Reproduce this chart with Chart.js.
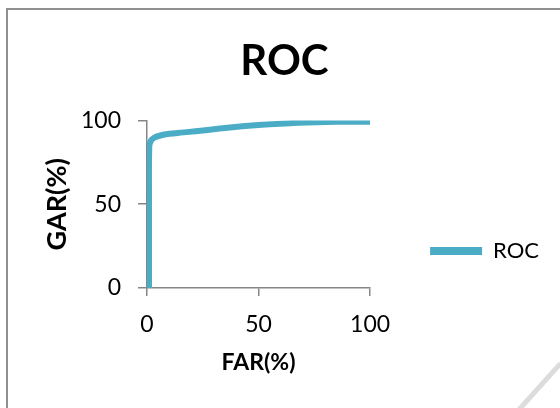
<!DOCTYPE html>
<html>
<head>
<meta charset="utf-8">
<title>ROC</title>
<script src="https://cdn.jsdelivr.net/npm/chart.js@4"></script>
<style>
    html, body { margin: 0; padding: 0; background: #fff; overflow: hidden; }
    #frame {
        position: absolute; left: 6px; top: 8px;
        width: 560px; height: 410px;
        border-left: 2px solid #8f8f8f; border-top: 2px solid #8f8f8f;
    }
    #box { position: absolute; left: 0; top: 0; width: 554px; height: 400px; }
    #mark {
        position: absolute; left: 536px; top: 355px;
        width: 5px; height: 66px; background: #dcdcdc;
        transform: rotate(42deg);
    }
</style>
</head>
<body>
<div id="frame"><div id="box"><canvas id="rocChart"></canvas></div></div>
<div id="mark"></div>
<script>
    // FAR / GAR en porcentaje
    const far = [0.9, 0.9, 1, 1.6, 3, 6, 10, 15, 24, 35, 50, 68, 85, 100];
    const gar = [0, 50, 84, 87.5, 89.5, 91, 92, 92.7, 93.8, 95.5, 97.2, 98.6, 99.2, 99.2];
    const ticksX = [0, 50, 100];
    const ticksY = [0, 50, 100];

    const azul = "#4BACC6";
    const gris = "#868686";
    const fuente = "Lato, 'Open Sans', sans-serif";

    Chart.defaults.font.family = fuente;
    Chart.defaults.color = "#000";

    const puntos = far.map((x, i) => ({ x: x, y: gar[i] }));

    const ctx = document.getElementById("rocChart").getContext("2d");
    new Chart(ctx, {
        type: "scatter",
        data: {
            datasets: [
                {
                    label: "ROC",
                    data: puntos,
                    showLine: true,
                    borderColor: azul,
                    backgroundColor: azul,
                    borderWidth: 6,
                    tension: 0.35,
                    pointRadius: 0,
                    pointHoverRadius: 0,
                },
            ],
        },
        options: {
            responsive: true,
            maintainAspectRatio: false,
            animation: false,
            layout: { padding: { left: 12, right: 13, top: 0, bottom: 34 } },
            scales: {
                x: {
                    type: "linear",
                    min: 0,
                    max: 100,
                    afterBuildTicks: (axis) => { axis.ticks = ticksX.map((v) => ({ value: v })); },
                    afterFit: (axis) => { axis.height = 88; },
                    grid: { drawOnChartArea: false, drawTicks: true, tickLength: 8, color: gris, lineWidth: 1.5 },
                    border: { color: gris, width: 1.5 },
                    ticks: { font: { size: 23 }, padding: 15, maxRotation: 0 },
                    title: { display: true, text: "FAR(%)", font: { size: 23, weight: "bold" }, padding: 0 },
                },
                y: {
                    type: "linear",
                    min: 0,
                    max: 100,
                    afterBuildTicks: (axis) => { axis.ticks = ticksY.map((v) => ({ value: v })); },
                    afterFit: (axis) => { axis.width = 127; },
                    grid: { drawOnChartArea: false, drawTicks: true, tickLength: 9, color: gris, lineWidth: 1.5 },
                    border: { color: gris, width: 1.5 },
                    ticks: { font: { size: 23 }, padding: 17 },
                    title: { display: true, text: "GAR(%)", font: { size: 27, weight: "bold" }, padding: { top: 21, bottom: 0 } },
                },
            },
            plugins: {
                title: {
                    display: true,
                    text: "ROC",
                    font: { size: 42, weight: "bold" },
                    padding: { top: 26, bottom: 34 },
                },
                legend: {
                    position: "right",
                    maxWidth: 300,
                    title: { display: true, text: " ", font: { size: 1 }, padding: { top: 0, bottom: 115 } },
                    labels: {
                        boxWidth: 52,
                        boxHeight: 8,
                        font: { size: 22 },
                        padding: 60,
                        generateLabels: (chart) =>
                            Chart.defaults.plugins.legend.labels
                                .generateLabels(chart)
                                .map((l) => ({ ...l, lineWidth: 0 })),
                    },
                },
                tooltip: { enabled: false },
            },
        },
    });
</script>
</body>
</html>
